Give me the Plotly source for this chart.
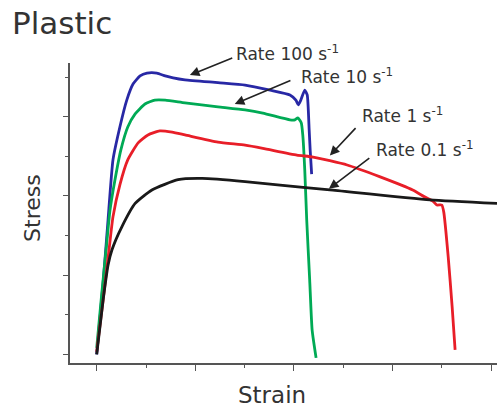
import plotly.graph_objects as go

# ---- data (strain / stress in tick units) ----
blue_x = [0.0, 0.13, 0.23, 0.33, 0.47, 0.61, 0.74, 0.88, 1.02, 1.22, 1.39, 1.55, 1.79, 2.46, 3.01, 3.52, 3.92, 4.04, 4.09, 4.14, 4.22, 4.27, 4.31, 4.33, 4.36]
blue_y = [0.0, 1.80, 3.39, 4.91, 5.74, 6.42, 6.83, 7.03, 7.10, 7.10, 7.03, 6.98, 6.93, 6.86, 6.80, 6.67, 6.55, 6.42, 6.30, 6.42, 6.67, 6.55, 5.66, 5.16, 4.55]

green_x = [0.0, 0.09, 0.19, 0.27, 0.37, 0.49, 0.63, 0.78, 0.98, 1.18, 1.39, 1.79, 2.46, 3.01, 3.37, 3.92, 4.02, 4.08, 4.15, 4.18, 4.22, 4.26, 4.32, 4.37, 4.45]
green_y = [0.16, 1.37, 2.64, 3.64, 4.40, 5.16, 5.74, 6.07, 6.32, 6.42, 6.42, 6.35, 6.25, 6.17, 6.09, 5.92, 5.92, 5.97, 5.84, 5.54, 4.66, 3.39, 1.88, 0.61, -0.09]

red_x = [0.0, 0.13, 0.25, 0.33, 0.47, 0.63, 0.84, 1.04, 1.28, 1.53, 1.79, 2.46, 3.01, 3.37, 4.06, 4.39, 5.08, 5.75, 6.41, 6.66, 6.82, 6.90, 7.00, 7.04, 7.13, 7.21, 7.27]
red_y = [0.06, 1.37, 2.64, 3.47, 4.28, 4.91, 5.34, 5.54, 5.64, 5.61, 5.54, 5.36, 5.28, 5.20, 5.03, 4.98, 4.78, 4.48, 4.15, 3.97, 3.87, 3.77, 3.77, 3.59, 2.46, 1.20, 0.11]

black_x = [0.0, 0.13, 0.23, 0.31, 0.51, 0.78, 1.12, 1.65, 2.14, 3.01, 3.72, 4.73, 6.76, 8.12]
black_y = [0.0, 1.37, 2.25, 2.64, 3.22, 3.81, 4.15, 4.41, 4.44, 4.36, 4.27, 4.15, 3.90, 3.81]

labels = ["Rate 100 s<sup>-1</sup>", "Rate 10 s<sup>-1</sup>", "Rate 1 s<sup>-1</sup>", "Rate 0.1 s<sup>-1</sup>"]
# arrow tip (on curve) and tail (near label), data units
arrow_tip_x = [1.89, 2.80, 4.73, 4.71]
arrow_tip_y = [7.05, 6.32, 5.02, 4.18]
arrow_tail_x = [2.78, 3.96, 5.28, 5.56]
arrow_tail_y = [7.50, 6.93, 5.75, 4.98]
# label anchor (left, middle) in paper units
label_px = [0.385, 0.537, 0.680, 0.712]
label_py = [1.034, 0.958, 0.826, 0.715]

series = [
    (blue_x, blue_y, "rgb(40,40,165)"),
    (green_x, green_y, "rgb(0,170,85)"),
    (red_x, red_y, "rgb(232,30,40)"),
    (black_x, black_y, "rgb(25,25,25)"),
]

fig = go.Figure()
for xs, ys, col in series:
    fig.add_trace(go.Scatter(x=xs, y=ys, mode="lines",
                             line=dict(color=col, width=2.8, shape="spline", smoothing=0.5),
                             showlegend=False, hoverinfo="skip"))

FONT = "DejaVu Sans"
TXT = "#333333"
ann = []
for i in range(4):
    ann.append(dict(x=arrow_tip_x[i], y=arrow_tip_y[i], xref="x", yref="y",
                    ax=arrow_tail_x[i], ay=arrow_tail_y[i], axref="x", ayref="y",
                    text="", showarrow=True, arrowhead=2, arrowsize=1.2,
                    arrowwidth=1.6, arrowcolor="#222222"))
    ann.append(dict(x=label_px[i], y=label_py[i], xref="paper", yref="paper",
                    text=labels[i], showarrow=False, xanchor="left", yanchor="middle",
                    font=dict(family=FONT, size=17, color=TXT)))

ann.append(dict(x=-0.1405, y=1.135, xref="paper", yref="paper", text="Plastic",
                showarrow=False, xanchor="left", yanchor="middle",
                font=dict(family=FONT, size=31, color=TXT)))
ann.append(dict(x=0.473, y=-0.108, xref="paper", yref="paper", text="Strain",
                showarrow=False, xanchor="center", yanchor="middle",
                font=dict(family=FONT, size=23, color=TXT)))
ann.append(dict(x=-0.0867, y=0.517, xref="paper", yref="paper", text="Stress",
                showarrow=False, xanchor="center", yanchor="middle", textangle=-90,
                font=dict(family=FONT, size=22, color=TXT)))

axcol = "#555555"
fig.update_layout(
    width=497, height=412,
    margin=dict(l=70, r=0, t=63, b=49),
    paper_bgcolor="white", plot_bgcolor="white",
    annotations=ann,
    xaxis=dict(range=[-0.5416, 8.1197], showgrid=False, zeroline=False,
               showline=True, linecolor=axcol, linewidth=1.6,
               ticks="outside", tick0=0, dtick=2, ticklen=6, tickwidth=1.3, tickcolor=axcol,
               showticklabels=False,
               minor=dict(dtick=1, tick0=0, ticks="outside", ticklen=3, tickwidth=1.2,
                          tickcolor=axcol, showgrid=False)),
    yaxis=dict(range=[-0.2197, 7.356], showgrid=False, zeroline=False,
               showline=True, linecolor=axcol, linewidth=1.6,
               ticks="outside", tick0=0, dtick=2, ticklen=5, tickwidth=1.3, tickcolor=axcol,
               showticklabels=False,
               minor=dict(dtick=1, tick0=0, ticks="outside", ticklen=3, tickwidth=1.2,
                          tickcolor=axcol, showgrid=False)),
)

fig.write_html("out.html", config={"displayModeBar": False},
               post_script="document.body.style.margin='0';document.body.style.overflow='hidden';")
